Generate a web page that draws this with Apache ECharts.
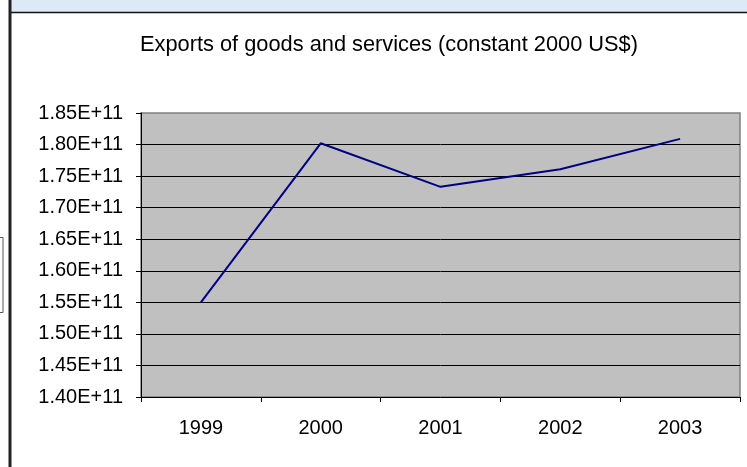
<!DOCTYPE html>
<html>
<head>
<meta charset="utf-8">
<script src="https://cdn.jsdelivr.net/npm/echarts@6/dist/echarts.min.js"></script>
<style>
  html, body { margin: 0; padding: 0; background: #ffffff; }
  #chart { width: 747px; height: 467px; }
</style>
</head>
<body>
<div id="chart"></div>
<script>
// Exports of goods and services, constant 2000 US$
const years = ['1999', '2000', '2001', '2002', '2003'];
const exportsValues = [1.550e11, 1.802e11, 1.733e11, 1.761e11, 1.809e11];

const yMin = 1.40e11;
const yMax = 1.85e11;
const yStep = 0.05e11;

const FONT = '"Liberation Sans", Arial, sans-serif';

const chart = echarts.init(document.getElementById('chart'), null, { renderer: 'canvas' });

chart.setOption({
  backgroundColor: '#ffffff',
  animation: false,
  title: {
    text: 'Exports of goods and services (constant 2000 US$)',
    left: 384,
    top: 29,
    textAlign: 'center',
    textStyle: { fontFamily: FONT, fontSize: 21.8, fontWeight: 'normal', color: '#000000' }
  },
  grid: {
    left: 141, top: 113, right: 7, bottom: 70,
    show: true,
    backgroundColor: '#c0c0c0',
    borderColor: '#808080',
    borderWidth: 1.5
  },
  xAxis: {
    type: 'category',
    data: years,
    boundaryGap: true,
    axisLine: { show: true, lineStyle: { color: '#000000', width: 1 } },
    axisTick: { show: true, length: 5, inside: false, lineStyle: { color: '#000000' } },
    axisLabel: { margin: 21, fontFamily: FONT, fontSize: 20, color: '#000000' },
    splitLine: { show: false }
  },
  yAxis: {
    type: 'value',
    min: yMin,
    max: yMax,
    interval: yStep,
    axisLine: { show: true, lineStyle: { color: '#000000', width: 1 } },
    axisTick: { show: true, length: 5, inside: false, lineStyle: { color: '#000000' } },
    axisLabel: {
      margin: 18,
      fontFamily: FONT,
      fontSize: 20,
      color: '#000000',
      formatter: v => (v / 1e11).toFixed(2) + 'E+11'
    },
    splitLine: {
      show: true,
      showMinLine: false,
      showMaxLine: false,
      lineStyle: { color: '#000000', width: 1 }
    }
  },
  series: [{
    type: 'line',
    data: exportsValues,
    symbol: 'none',
    lineStyle: { color: '#000080', width: 2 }
  }],
  graphic: [
    // window strip across the top
    { type: 'rect', shape: { x: 11, y: 0, width: 736, height: 12 }, style: { fill: '#dde9f4' }, silent: true },
    { type: 'line', shape: { x1: 10, y1: 12.5, x2: 747, y2: 12.5 }, style: { stroke: '#111111', lineWidth: 1.5 }, silent: true },
    // left frame edge
    { type: 'line', shape: { x1: 10, y1: 0, x2: 10, y2: 467 }, style: { stroke: '#222222', lineWidth: 3 }, silent: true },
    // small box at the far left
    { type: 'rect', shape: { x: -1, y: 237.5, width: 4, height: 75 }, style: { fill: 'none', stroke: '#555555', lineWidth: 1 }, silent: true }
  ]
});
</script>
</body>
</html>
